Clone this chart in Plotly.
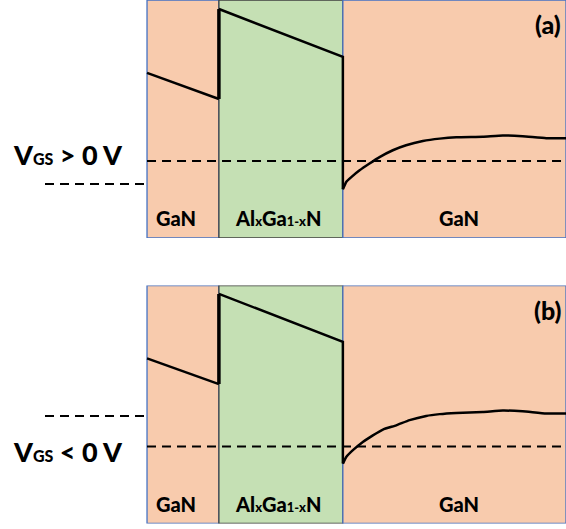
import plotly.graph_objects as go

# Layer boundaries along the growth direction (nm); 0 = GaN/AlGaN interface
gan_left = [-5.8, 0.0]
algan = [0.0, 10.0]
gan_right = [10.0, 28.0]

# Conduction band edge (eV, relative to the channel Fermi level)
# (a) V_GS > 0 V
cb_a_left_x = [-5.8, 0.0]
cb_a_left_e = [2.20, 1.55]
cb_a_barrier_x = [0.0, 0.0, 10.0, 10.0]
cb_a_barrier_e = [1.55, 3.795, 2.60, -0.705]
cb_a_chan_x = [10.0, 10.27, 10.68, 11.35, 12.15, 12.96, 14.03, 15.10, 16.45,
               17.81, 19.15, 21.29, 22.9, 24.5, 26.4, 28.0]
cb_a_chan_e = [-0.705, -0.52, -0.40, -0.23, -0.06, 0.10, 0.27, 0.395, 0.50,
               0.56, 0.595, 0.61, 0.64, 0.62, 0.57, 0.57]
gate_a = -0.57

# (b) V_GS < 0 V
cb_b_left_x = [-5.8, 0.0]
cb_b_left_e = [2.20, 1.56]
cb_b_barrier_x = [0.0, 0.0, 10.0, 10.0]
cb_b_barrier_e = [1.56, 3.81, 2.615, -0.425]
cb_b_chan_x = [10.0, 10.27, 10.81, 11.61, 12.42, 13.23, 14.3, 15.38, 16.72,
               17.81, 19.15, 21.29, 22.9, 24.5, 26.4, 28.0]
cb_b_chan_e = [-0.425, -0.26, -0.09, 0.115, 0.28, 0.425, 0.53, 0.66, 0.765,
               0.81, 0.84, 0.865, 0.90, 0.88, 0.825, 0.825]
gate_b = 0.765

fermi = 0.0
gate_dash_x = [-14.03, -5.8]

X_RANGE = [-17.66, 28.0]
E_RANGE = [-1.92, 4.02]

ORANGE = "#F8CBAD"
GREEN = "#C5E0B4"
BLUE_EDGE = "#4472C4"
DARK_EDGE = "#3F3F3F"
FONT = "Lato"
WEIGHT = 900

fig = go.Figure()

panels = [
    ("y", "(a)", "V<span style=\"font-size:16px\">GS</span> &gt; 0 V", 0.16,
     cb_a_left_x, cb_a_left_e, cb_a_barrier_x, cb_a_barrier_e,
     cb_a_chan_x, cb_a_chan_e, gate_a),
    ("y2", "(b)", "V<span style=\"font-size:16px\">GS</span> &lt; 0 V", -0.135,
     cb_b_left_x, cb_b_left_e, cb_b_barrier_x, cb_b_barrier_e,
     cb_b_chan_x, cb_b_chan_e, gate_b),
]

shapes = []
annotations = []
for yref, tag, vlabel, vlabel_e, lx, le, bx, be, cx, ce, gate in panels:
    # Layer rectangles
    for (x0, x1), fill, edge in [(gan_left, ORANGE, BLUE_EDGE),
                                 (algan, GREEN, DARK_EDGE),
                                 (gan_right, ORANGE, BLUE_EDGE)]:
        shapes.append(dict(type="rect", xref="x", yref=yref, x0=x0, x1=x1,
                           y0=E_RANGE[0], y1=E_RANGE[1], fillcolor=fill,
                           line=dict(color=edge, width=1.3), layer="below"))
    # Fermi level across the structure and gate level at left
    fig.add_trace(go.Scatter(x=[gan_left[0], gan_right[1]], y=[fermi, fermi],
                             yaxis=yref, mode="lines",
                             line=dict(color="black", width=2, dash="9px,6px")))
    fig.add_trace(go.Scatter(x=gate_dash_x, y=[gate, gate], yaxis=yref,
                             mode="lines", cliponaxis=False,
                             line=dict(color="black", width=2, dash="9px,6px")))
    # Conduction band
    fig.add_trace(go.Scatter(x=lx, y=le, yaxis=yref, mode="lines",
                             line=dict(color="black", width=2.5)))
    fig.add_trace(go.Scatter(x=bx[:2], y=be[:2], yaxis=yref, mode="lines",
                             line=dict(color="black", width=3.5)))
    fig.add_trace(go.Scatter(x=bx[1:], y=be[1:], yaxis=yref, mode="lines",
                             line=dict(color="black", width=2.5)))
    fig.add_trace(go.Scatter(x=cx, y=ce, yaxis=yref, mode="lines",
                             line=dict(color="black", width=2.5,
                                       shape="spline", smoothing=0.4)))
    # Text labels
    font_main = dict(family=FONT, size=20, color="black", weight=WEIGHT)
    annotations += [
        dict(x=-3.47, y=-1.43, xref="x", yref=yref, text="GaN",
             showarrow=False, font=font_main),
        dict(x=4.76, y=-1.43, xref="x", yref=yref,
             text="Al<span style=\"font-size:13px\">x</span>Ga"
                  "<span style=\"font-size:13px\">1-x</span>N",
             showarrow=False, font=font_main),
        dict(x=19.33, y=-1.43, xref="x", yref=yref, text="GaN",
             showarrow=False, font=font_main),
        dict(x=26.55, y=3.42, xref="x", yref=yref, text=tag,
             showarrow=False,
             font=dict(family=FONT, size=25, color="black", weight=WEIGHT)),
        dict(x=-7.6, y=vlabel_e, xref="x", yref=yref, xanchor="right",
             text=vlabel, showarrow=False,
             font=dict(family=FONT, size=27, color="black", weight=WEIGHT)),
    ]

axis_common = dict(visible=False, showgrid=False, zeroline=False,
                   fixedrange=True)
fig.update_layout(
    width=566, height=529,
    margin=dict(l=0, r=0, t=0, b=0),
    paper_bgcolor="white", plot_bgcolor="white",
    showlegend=False,
    xaxis=dict(range=X_RANGE, domain=[0, 1], **axis_common),
    yaxis=dict(range=E_RANGE, domain=[1 - 238 / 529, 1.0], **axis_common),
    yaxis2=dict(range=E_RANGE, domain=[1 - 523.5 / 529, 1 - 285.5 / 529],
                **axis_common),
    shapes=shapes,
    annotations=annotations,
)

fig.write_html("out.html")
